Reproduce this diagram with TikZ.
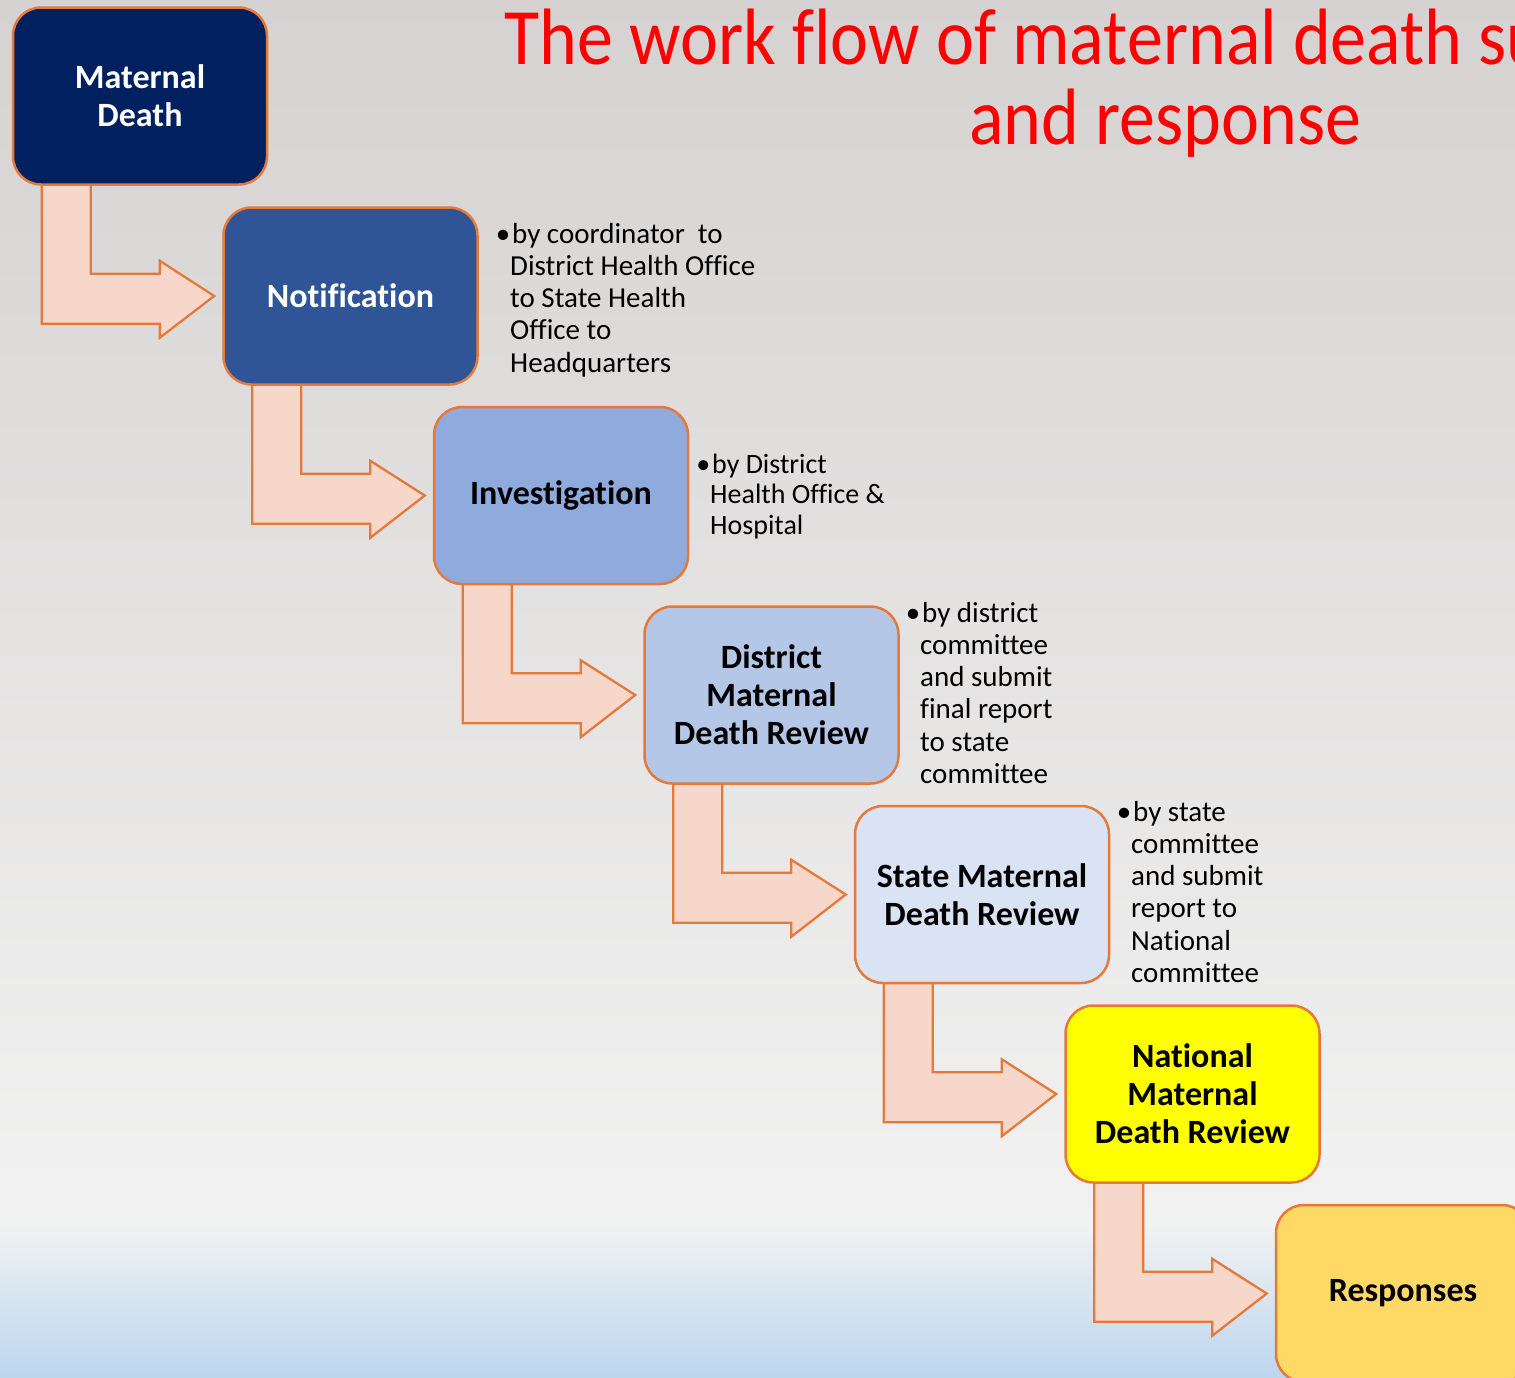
\documentclass[tikz,border=0pt]{standalone}
\usepackage{fontspec}
\setmainfont{Carlito}[Ligatures=NoCommon]
\usetikzlibrary{calc}
\pgfdeclarelayer{back}
\pgfdeclarelayer{arrows}
\pgfsetlayers{back,arrows,main}
\definecolor{bgtop}{HTML}{D5D2D1}
\definecolor{bgmid}{HTML}{F2F2F2}
\definecolor{bgbot}{HTML}{BCD6EE}
\definecolor{cone}{HTML}{002060}
\definecolor{ctwo}{HTML}{2F5597}
\definecolor{cthree}{HTML}{8FAADC}
\definecolor{cfour}{HTML}{B4C7E7}
\definecolor{cfive}{HTML}{DAE3F3}
\definecolor{csix}{HTML}{FFFF00}
\definecolor{cseven}{HTML}{FFD966}
\definecolor{edge}{HTML}{E5793A}
\definecolor{arrowfill}{HTML}{F8D7CB}
\definecolor{titlered}{HTML}{FF0000}
\newcommand\sidepar[1]{\parbox[t]{300pt}{\raggedright\leavevmode #1}}
\newcommand\bulletmark{\llap{•}\hspace{2pt}}
\newcommand\bentarrow[2]{%
  \draw[flowarrow] ($(#1.south west)+(30,-4)$) -- ++(49,0) -- ++(0,92)
    -- ++(69,0) -- ++(0,-13) -- ($(#2.west)+(-8,0)$)
    -- ($(#1.south west)+(148,152)$) -- ++(0,-14) -- ++(-118,0) -- cycle;}
\begin{document}
\begin{tikzpicture}[x=1pt,y=-1pt,
  flowbox/.style={draw=edge, line width=2.5pt, rounded corners=28pt,
    minimum width=254pt, minimum height=177pt, inner sep=0pt,
    align=center, font=\fontsize{34}{38}\selectfont\bfseries},
  flowarrow/.style={draw=edge, line width=2.3pt, fill=arrowfill, line join=miter},
  sidetext/.style={anchor=base west, inner sep=0pt, font=\fontsize{29}{32.3}\selectfont},
  titletext/.style={anchor=base, inner sep=0pt, text=titlered, font=\fontsize{80}{80}\selectfont}]
\useasboundingbox (0,0) rectangle (1515,1377);
\clip (0,0) rectangle (1515,1377);
% background
\begin{pgfonlayer}{back}
\shade[top color=bgtop, bottom color=bgmid] (0,0) rectangle (1515,1226);
\shade[top color=bgmid, bottom color=bgbot] (0,1225) rectangle (1515,1377);
\end{pgfonlayer}
% boxes
\node[flowbox, fill=cone, text=white] (md) at (140,96) {Maternal\\Death};
\node[flowbox, fill=ctwo, text=white] (nt) at (350.5,296) {Notification};
\node[flowbox, fill=cthree, text=black] (iv) at (561,495.5) {Investigation};
\node[flowbox, fill=cfour, text=black] (dm) at (771.5,695) {District\\Maternal\\Death Review};
\node[flowbox, fill=cfive, text=black] (sm) at (982,894.5) {State Maternal\\Death Review};
\node[flowbox, fill=csix, text=black] (nm) at (1192.5,1094) {National\\Maternal\\Death Review};
\node[flowbox, fill=cseven, text=black] (rs) at (1403,1293.5) {Responses};
% bent arrows, drawn below the boxes
\begin{pgfonlayer}{arrows}
\bentarrow{md}{nt}
\bentarrow{nt}{iv}
\bentarrow{iv}{dm}
\bentarrow{dm}{sm}
\bentarrow{sm}{nm}
\bentarrow{nm}{rs}
\end{pgfonlayer}
% side notes
\node[sidetext] (n1) at (510,243) {\sidepar{\bulletmark by coordinator\ \ to\\District Health Office\\to State Health\\Office to\\Headquarters}};
\node[sidetext, font=\fontsize{28}{30.5}\selectfont] (n2) at (710,473) {\sidepar{\bulletmark by District\\Health Office \&\\Hospital}};
\node[sidetext] (n3) at (920,622) {\sidepar{\bulletmark by district\\committee\\and submit\\final report\\to state\\committee}};
\node[sidetext] (n4) at (1131,821) {\sidepar{\bulletmark by state\\committee\\and submit\\report to\\National\\committee}};
% title
\node[titletext] (t1) at (1165.5,64) {\scalebox{0.9}[1]{The work flow of maternal death surveillance}};
\node[titletext] (t2) at (1165.5,144) {\scalebox{0.9}[1]{and response}};
\end{tikzpicture}
\end{document}
